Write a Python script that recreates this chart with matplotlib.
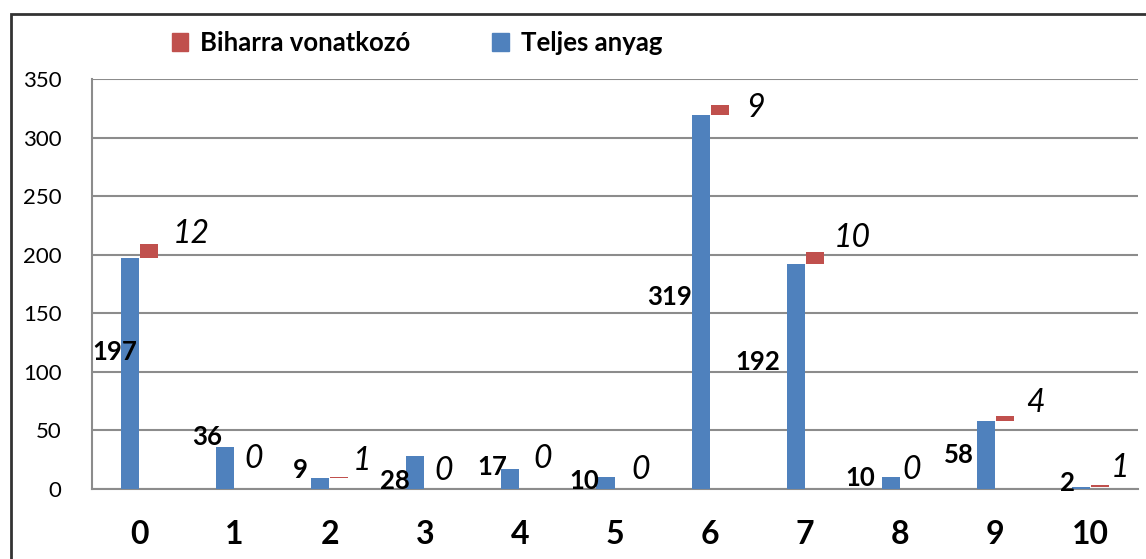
import numpy as np
import matplotlib.pyplot as plt
from matplotlib.patches import Rectangle, Patch

plt.rcParams['font.family'] = ['Lato', 'DejaVu Sans']

# data
categories = ['0', '1', '2', '3', '4', '5', '6', '7', '8', '9', '10']
teljes = [197, 36, 9, 28, 17, 10, 319, 192, 10, 58, 2]
bihar = [12, 0, 1, 0, 0, 0, 9, 10, 0, 4, 1]

# hand placed label spots (as in the original)
teljes_lab_y = [117, 44, 16, 7, 19, 7, 164, 108, 9, 29, 5]
teljes_lab_dx = [-0.02, -0.13, -0.23, -0.16, -0.13, -0.17, -0.19, -0.26, -0.26, -0.23, -0.16]
bihar_lab_y = [218, 26, 24, 15, 26, 16, 325, 214, 16, 73, 18]
bihar_lab_dx = [0.35, 0.1, 0.24, 0.1, 0.14, 0.17, 0.38, 0.3, 0.02, 0.32, 0.21]

blue = '#4F81BD'
red = '#C0504D'

fig = plt.figure(figsize=(11.46, 5.59), dpi=100)
ax = fig.add_axes([92/1146, 1-489/559, (1138-92)/1146, (489-79)/559])

x = np.arange(len(categories))
w = 0.19
ax.bar(x - 0.1, teljes, w, color=blue, zorder=3)
ax.bar(x + 0.1, bihar, w, bottom=teljes, color=red, zorder=3)

for i in range(len(x)):
    ax.text(x[i] + teljes_lab_dx[i], teljes_lab_y[i], str(teljes[i]), ha='right', va='center',
            fontsize=18.5, fontweight='bold', zorder=4)
    ax.text(x[i] + bihar_lab_dx[i], bihar_lab_y[i], str(bihar[i]), ha='left', va='center',
            fontsize=23, fontstyle='italic', zorder=4)

ax.set_xlim(-0.5, 10.5)
ax.set_ylim(0, 350)
ax.set_yticks(range(0, 351, 50))
ax.set_xticks(x)
ax.set_xticklabels(categories, fontsize=23, fontweight='bold')
ax.tick_params(axis='y', length=0, labelsize=16, pad=22)
ax.tick_params(axis='x', length=0, pad=22)
ax.yaxis.grid(True, color='#8c8c8c', lw=1.5, zorder=0)
for s in ['top', 'right']:
    ax.spines[s].set_visible(False)
for s in ['left', 'bottom']:
    ax.spines[s].set_color('#8c8c8c')
    ax.spines[s].set_linewidth(1.5)

handles = [Patch(color=red, label='Biharra vonatkozó'), Patch(color=blue, label='Teljes anyag')]
fig.legend(handles=handles, ncol=2, loc='center', bbox_to_anchor=(417/1146, 1-43/559),
           frameon=False, handlelength=0.65, handleheight=0.65, handletextpad=0.45,
           columnspacing=3.2, prop={'size': 18.5, 'weight': 'bold'})

fig.patches.append(Rectangle((11/1146, -0.1), 1.2, 1.1 - 14/559, transform=fig.transFigure,
                             fill=False, edgecolor='#333333', lw=2))

fig.savefig('out.png', dpi=100)
